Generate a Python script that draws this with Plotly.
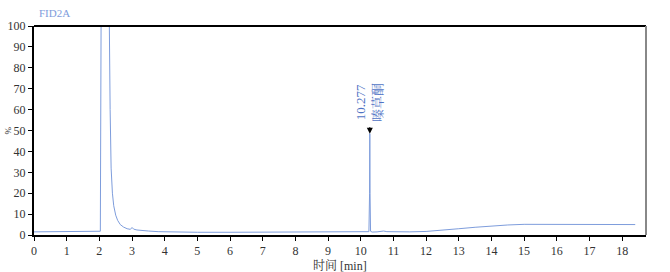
import plotly.graph_objects as go

time_min = [0, 1.0, 1.99, 2.03, 2.06, 2.1, 2.18, 2.26, 2.3, 2.33, 2.36, 2.4, 2.44, 2.5, 2.56, 2.64, 2.74, 2.85, 2.95, 3.0, 3.05, 3.15, 3.3, 3.5, 3.8, 4.2, 5, 6, 7, 8, 9, 10.0, 10.2, 10.25, 10.27, 10.277, 10.285, 10.3, 10.35, 10.5, 10.7, 10.8, 11.0, 11.5, 12.0, 12.5, 13.0, 13.5, 14.0, 14.5, 15.0, 16.0, 17.0, 18.0, 18.4]
signal_pct = [1.5, 1.5, 1.5, 1.8, 130, 140, 135, 130, 110, 60, 32, 20, 14, 9.5, 7, 5, 3.8, 3.0, 2.7, 3.6, 2.8, 2.4, 2.1, 1.9, 1.6, 1.4, 1.3, 1.3, 1.3, 1.3, 1.3, 1.3, 1.35, 1.6, 20, 48.5, 20, 1.8, 1.4, 1.5, 1.9, 1.6, 1.5, 1.5, 1.7, 2.2, 3.0, 3.7, 4.4, 4.8, 5.1, 5.1, 5.1, 5.0, 5.0]

x_ticks = list(range(0, 19))
y_ticks = list(range(0, 101, 10))
peak_time = 10.277
peak_height = 48.5
peak_label = "10.277<br>嗪草酮"
x_title = "时间 [min]"
y_title = "%"
chart_title = "FID2A"

font_family = "Liberation Serif, Noto Serif CJK SC, Noto Sans CJK SC, serif"

fig = go.Figure()
fig.add_trace(go.Scatter(x=time_min, y=signal_pct, mode="lines",
                         line=dict(color="#7e9ddc", width=1), hoverinfo="skip"))

fig.update_layout(
    width=670, height=272,
    margin=dict(l=34, r=24, t=26, b=37),
    paper_bgcolor="white", plot_bgcolor="white",
    showlegend=False,
    font=dict(family=font_family, size=12, color="#333333"),
    xaxis=dict(range=[0, 18.73], tickvals=x_ticks, ticks="outside", ticklen=4,
               tickcolor="black", showgrid=False, zeroline=False, automargin=False,
               showline=True, linecolor="black", linewidth=2,
               tickfont=dict(size=12, color="#333333")),
    yaxis=dict(range=[0, 100], tickvals=y_ticks, ticks="outside", ticklen=4,
               tickcolor="black", showgrid=False, zeroline=False, automargin=False,
               showline=True, linecolor="black", linewidth=2,
               tickfont=dict(size=12, color="#333333")),
)

# top and right frame
fig.add_shape(type="line", xref="paper", yref="paper", x0=0, x1=1, y0=1, y1=1,
              line=dict(color="black", width=2))
fig.add_shape(type="line", xref="paper", yref="paper", x0=1, x1=1, y0=0, y1=1,
              line=dict(color="#888888", width=2))

fig.add_annotation(xref="paper", yref="paper", x=0.005, y=1.0, yanchor="bottom", xanchor="left",
                   yshift=5, text=chart_title, showarrow=False,
                   font=dict(size=11, color="#7e9ddc", family=font_family))

fig.add_annotation(xref="paper", yref="paper", x=0.5, y=0, yanchor="top", xanchor="center",
                   yshift=-21, text=x_title, showarrow=False,
                   font=dict(size=12, color="#333333", family=font_family))
fig.add_annotation(xref="paper", yref="paper", x=0, y=0.5, yanchor="middle", xanchor="center",
                   xshift=-27, text=y_title, showarrow=False, textangle=-90,
                   font=dict(size=9, color="#333333", family=font_family))

fig.add_annotation(x=peak_time, y=peak_height, text="", showarrow=True,
                   ax=0, ay=-8, arrowhead=2, arrowsize=1.2, arrowwidth=1, arrowcolor="black")
fig.add_annotation(x=peak_time, y=peak_height, text=peak_label, showarrow=False,
                   textangle=-90, yanchor="bottom", xanchor="center", yshift=10, xshift=-1,
                   font=dict(size=13, color="#4f73c4", family=font_family))

fig.write_html("out.html")
